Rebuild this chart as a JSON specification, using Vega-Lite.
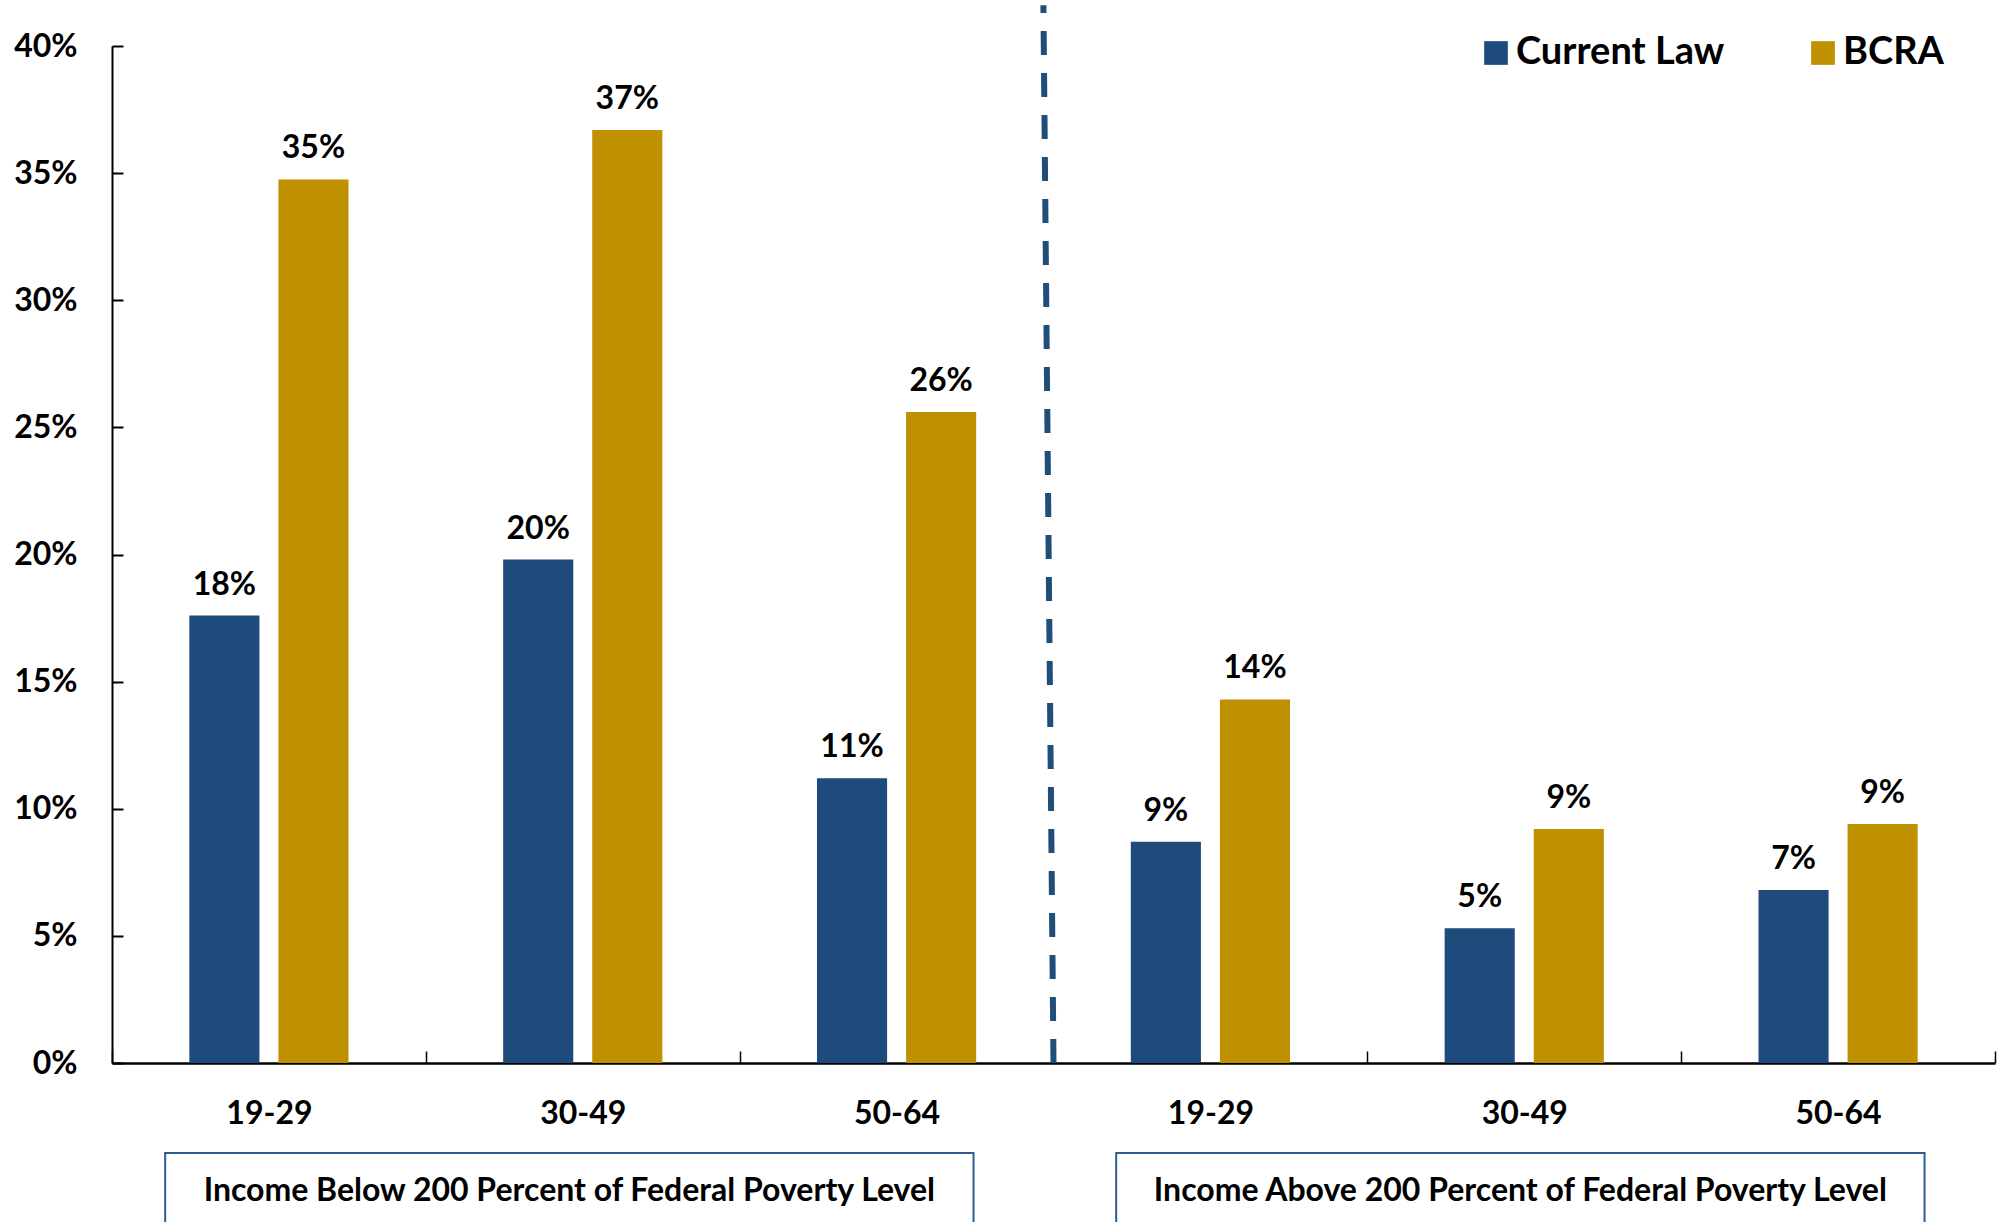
{
  "$schema": "https://vega.github.io/schema/vega-lite/v6.json",
  "autosize": {"type": "none"},
  "width": 1883,
  "height": 1017,
  "padding": {"left": 112, "top": 46, "right": 4, "bottom": 159},
  "background": "white",
  "config": {"font": "Lato", "view": {"stroke": null}},
  "datasets": {
    "bars": [
      {"grp": "B|19-29", "series": "Current Law", "value": 0.176},
      {"grp": "B|19-29", "series": "BCRA", "value": 0.3475},
      {"grp": "B|30-49", "series": "Current Law", "value": 0.198},
      {"grp": "B|30-49", "series": "BCRA", "value": 0.367},
      {"grp": "B|50-64", "series": "Current Law", "value": 0.112},
      {"grp": "B|50-64", "series": "BCRA", "value": 0.256},
      {"grp": "A|19-29", "series": "Current Law", "value": 0.087},
      {"grp": "A|19-29", "series": "BCRA", "value": 0.143},
      {"grp": "A|30-49", "series": "Current Law", "value": 0.053},
      {"grp": "A|30-49", "series": "BCRA", "value": 0.092},
      {"grp": "A|50-64", "series": "Current Law", "value": 0.068},
      {"grp": "A|50-64", "series": "BCRA", "value": 0.094}
    ],
    "divider": [{"grp": "A|19-29"}],
    "boxes": [
      {"half": "Below", "label": "Income Below 200 Percent of Federal Poverty Level"},
      {"half": "Above", "label": "Income Above 200 Percent of Federal Poverty Level"}
    ]
  },
  "layer": [
    {
      "layer": [
        {
          "data": {"name": "bars"},
          "mark": {"type": "bar"},
          "encoding": {
            "x": {
              "field": "grp", "type": "nominal",
              "sort": ["B|19-29", "B|30-49", "B|50-64", "A|19-29", "A|30-49", "A|50-64"],
              "scale": {"domain": ["B|19-29", "B|30-49", "B|50-64", "A|19-29", "A|30-49", "A|50-64"], "paddingInner": 0, "paddingOuter": 0},
              "axis": {
                "title": null,
                "labelExpr": "split(datum.label, '|')[1]",
                "labelAngle": 0,
                "labelFont": "Lato", "labelFontWeight": "bold", "labelFontSize": 32, "labelColor": "black",
                "labelPadding": 47,
                "tickBand": "extent",
                "tickSize": -12, "tickColor": "black", "tickWidth": 1.5,
                "domainColor": "black", "domainWidth": 2.5
              }
            },
            "xOffset": {
              "field": "series", "type": "nominal", "sort": ["Current Law", "BCRA"],
              "scale": {"paddingInner": 0.213, "paddingOuter": 0.868}
            },
            "y": {
              "field": "value", "type": "quantitative",
              "scale": {"domain": [0, 0.4], "nice": false},
              "axis": {
                "title": null,
                "values": [0, 0.05, 0.1, 0.15, 0.2, 0.25, 0.3, 0.35, 0.4],
                "format": ".0%",
                "grid": false,
                "labelFont": "Lato", "labelFontWeight": "bold", "labelFontSize": 32, "labelColor": "black",
                "labelPadding": 46,
                "tickSize": -11, "tickColor": "black", "tickWidth": 2,
                "domainColor": "black", "domainWidth": 2
              }
            },
            "color": {
              "field": "series", "type": "nominal",
              "scale": {"domain": ["Current Law", "BCRA"], "range": ["#1F4A7C", "#BF9000"]},
              "legend": {
                "title": null,
                "orient": "none",
                "direction": "horizontal",
                "legendX": 1365,
                "legendY": -12,
                "padding": 0,
                "symbolType": "square",
                "symbolSize": 560,
                "symbolStrokeWidth": 0,
                "labelFont": "Lato", "labelFontWeight": "bold", "labelFontSize": 38, "labelColor": "black",
                "labelOffset": 1,
                "labelLimit": 500,
                "columnPadding": 79
              }
            }
          }
        },
        {
          "data": {"name": "bars"},
          "mark": {"type": "text", "font": "Lato", "fontWeight": "bold", "fontSize": 32, "color": "black", "baseline": "alphabetic", "dy": -21},
          "encoding": {
            "x": {"field": "grp", "type": "nominal", "sort": ["B|19-29", "B|30-49", "B|50-64", "A|19-29", "A|30-49", "A|50-64"]},
            "xOffset": {"field": "series", "type": "nominal", "sort": ["Current Law", "BCRA"]},
            "y": {"field": "value", "type": "quantitative"},
            "text": {"field": "value", "type": "quantitative", "format": ".0%"}
          }
        },
        {
          "data": {"name": "divider"},
          "mark": {"type": "rule", "color": "#1F4E79", "strokeWidth": 6, "strokeDash": [24, 18], "x2Offset": -167},
          "encoding": {
            "x": {"field": "grp", "type": "nominal", "bandPosition": 0},
            "x2": {"field": "grp"},
            "y": {"datum": 0, "type": "quantitative"},
            "y2": {"datum": 0.416}
          }
        }
      ]
    },
    {
      "data": {"name": "boxes"},
      "layer": [
        {
          "mark": {"type": "rect", "fill": "white", "stroke": "#2F5D8C", "strokeWidth": 2},
          "encoding": {
            "x": {
              "field": "half", "type": "nominal",
              "scale": {"domain": ["Below", "Above"], "paddingInner": 0.15, "paddingOuter": 0.065, "align": 0.43},
              "axis": null
            },
            "y": {"datum": -0.0354, "type": "quantitative"},
            "y2": {"datum": -0.1}
          }
        },
        {
          "mark": {"type": "text", "font": "Lato", "fontWeight": "bold", "fontSize": 32, "color": "black", "baseline": "alphabetic"},
          "encoding": {
            "x": {"field": "half", "type": "nominal", "axis": null},
            "y": {"datum": -0.0543, "type": "quantitative"},
            "text": {"field": "label"}
          }
        }
      ]
    }
  ],
  "resolve": {"scale": {"x": "independent"}, "axis": {"x": "independent"}}
}
